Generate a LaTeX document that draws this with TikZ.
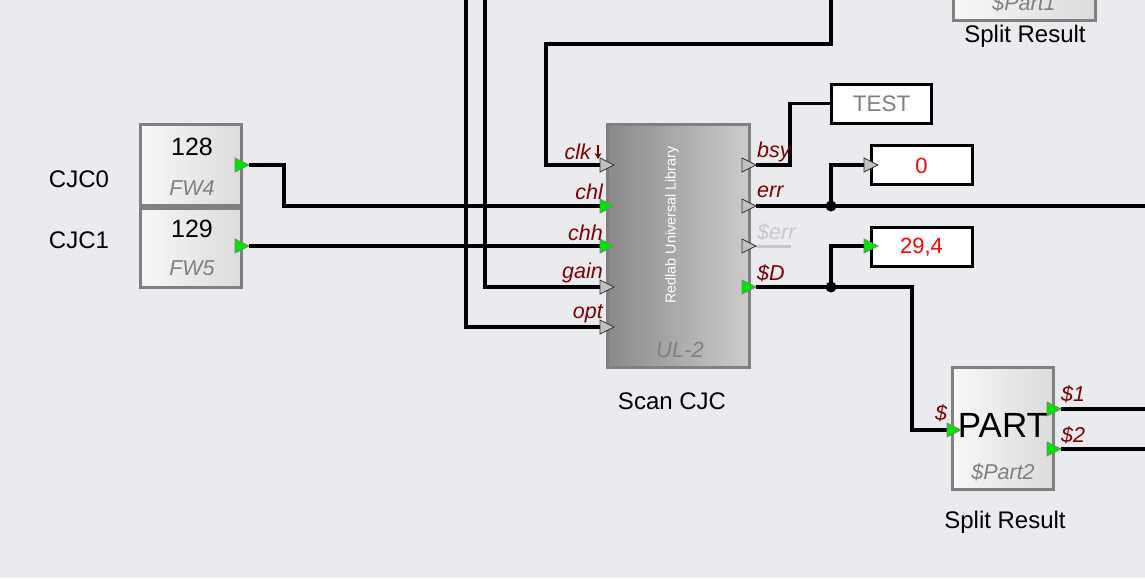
\documentclass[tikz,border=0pt]{standalone}
\usepackage{fontspec}
\setmainfont{Liberation Sans}
\usetikzlibrary{arrows.meta}
\definecolor{bg}{RGB}{234,235,239}
\definecolor{pinred}{RGB}{128,0,0}
\definecolor{valred}{RGB}{255,0,0}
\definecolor{txtgray}{RGB}{128,128,128}
\definecolor{lightg}{RGB}{200,200,200}
\definecolor{pingreen}{RGB}{0,228,0}
\definecolor{pingray}{RGB}{192,192,192}
\pgfdeclarelayer{bglayer}
\pgfdeclarelayer{wires}
\pgfsetlayers{bglayer,wires,main}
\begin{document}
\begin{tikzpicture}[x=1pt,y=-1pt,
  wire/.style={line width=3.2pt,black},
  fwbox/.style={draw=txtgray,line width=3pt,left color=white!97!black,right color=white!86!black,inner sep=0pt},
  ulbox/.style={draw=txtgray,line width=3pt,left color=white!54!black,right color=white!80!black,inner sep=0pt},
  valbox/.style={draw=black,line width=3pt,fill=white,inner sep=0pt,minimum width=100pt,minimum height=39pt},
  pinlbl/.style={text=pinred,font=\fontsize{21.5}{24}\selectfont\itshape,inner sep=0pt},
  plain/.style={font=\fontsize{24}{28}\selectfont,inner sep=0pt},
  gitxt/.style={text=txtgray,font=\fontsize{21.5}{24}\selectfont\itshape,inner sep=0pt},
  ping/.pic={\draw[fill=pingreen,draw=txtgray,line width=0.8pt] (-7,-7) -- (7,0) -- (-7,7) -- cycle;
    \coordinate (-w) at (-7,0); \coordinate (-e) at (7,0);},
  pinr/.pic={\draw[fill=pingray,draw=black!80,line width=0.8pt] (-7,-7) -- (7,0) -- (-7,7) -- cycle;
    \coordinate (-w) at (-7,0); \coordinate (-e) at (7,0);}
]
\useasboundingbox (0,0) rectangle (1145,578);
\begin{pgfonlayer}{bglayer}
\fill[bg] (0,0) rectangle (1145,578);
\end{pgfonlayer}

% coordinates for free ends
\coordinate (topopt) at (466,0);
\coordinate (topgain) at (485,0);
\coordinate (c1) at (546,44);
\coordinate (topclk) at (831,0);
\coordinate (errend) at (1145,206);
\coordinate (dot1) at (831,206);
\coordinate (dot2) at (831,287);
\coordinate (bend) at (912,360);
\coordinate (out1) at (1145,409);
\coordinate (out2) at (1145,449);

% top-right partial block
\node[fwbox,minimum width=142pt,minimum height=90pt] (part1) at (1024,-24) {};
\node[gitxt] (part1t) at (1024,3) {\$Part1};
\node[plain] (sr1) at (1025,36) {Split Result};

% FW boxes
\node[fwbox,minimum width=101pt,minimum height=81pt] (fw4) at (190.5,165) {};
\node[fwbox,minimum width=101pt,minimum height=79pt] (fw5) at (190.5,247.5) {};
\node[plain,font=\fontsize{25}{28}\selectfont] (t128) at (192,147) {128};
\node[gitxt] (tfw4) at (192,188) {FW4};
\node[plain,font=\fontsize{25}{28}\selectfont] (t129) at (192,229) {129};
\node[gitxt] (tfw5) at (192,268) {FW5};
\node[plain] (cjc0) at (79,179) {CJC0};
\node[plain] (cjc1) at (79,240) {CJC1};
\pic (fw4o) at (242,165) {ping};
\pic (fw5o) at (242,246) {ping};

% UL-2 block
\node[ulbox,minimum width=142pt,minimum height=243pt] (ul) at (678.5,246) {};
\node[rotate=90,text=white,font=\fontsize{14.4}{17}\selectfont,inner sep=0pt] (ullib) at (672,225) {Redlab Universal Library};
\node[gitxt,font=\fontsize{22}{26}\selectfont\itshape] (ult) at (680,350) {UL-2};
\node[plain] (scan) at (672,401) {Scan CJC};

\pic (clk) at (607,165) {pinr};
\pic (chl) at (607,206) {ping};
\pic (chh) at (607,246) {ping};
\pic (gain) at (607,287) {pinr};
\pic (opt) at (607,327) {pinr};
\pic (bsy) at (749,165) {pinr};
\pic (err) at (749,206) {pinr};
\pic (serr) at (749,246) {pinr};
\pic (sd) at (749,287) {ping};

\node[pinlbl,anchor=east] (lclk) at (591,152) {clk};
\draw[pinred,line width=1.8pt,-{Stealth[length=6pt,width=7pt]}] (598,145) -- (598,159);
\node[pinlbl,anchor=east] (lchl) at (603,192) {chl};
\node[pinlbl,anchor=east] (lchh) at (603,233) {chh};
\node[pinlbl,anchor=east] (lgain) at (603,273) {gain};
\node[pinlbl,anchor=east] (lopt) at (603,314) {opt};
\node[pinlbl,anchor=west] (lbsy) at (757,152) {bsy};
\node[pinlbl,anchor=west] (lerr) at (757,192) {err};
\node[pinlbl,anchor=west,text=lightg] (lserr) at (757,232) {\$err};
\node[pinlbl,anchor=west] (lsd) at (757,273) {\$D};

% value boxes
\node[valbox] (test) at (881.5,103.5) {};
\node[text=txtgray,font=\fontsize{22.5}{26}\selectfont,inner sep=0pt] (testt) at (881.5,104) {TEST};
\node[valbox,minimum width=101pt] (zero) at (921.5,165) {};
\node[text=valred,font=\fontsize{22}{26}\selectfont,inner sep=0pt] (zerot) at (921.5,166) {0};
\node[valbox,minimum width=101pt] (val) at (921.5,246.5) {};
\node[text=valred,font=\fontsize{22}{26}\selectfont,inner sep=0pt] (valt) at (921.5,247) {29,4};
\pic (zin) at (871,165) {pinr};
\pic (vin) at (871,246) {ping};

% PART block
\node[fwbox,minimum width=101pt,minimum height=122pt] (part) at (1003,428.5) {};
\node[plain,font=\fontsize{35}{40}\selectfont] (partt) at (1003,425) {PART};
\node[gitxt] (part2t) at (1003,472) {\$Part2};
\node[plain] (sr2) at (1005,522) {Split Result};
\pic (pin) at (954,430) {ping};
\pic (p1) at (1054,409) {ping};
\pic (p2) at (1054,449) {ping};
\node[pinlbl] (ls) at (941,413) {\$};
\node[pinlbl,anchor=west] (ls1) at (1061,394) {\$1};
\node[pinlbl,anchor=west] (ls2) at (1061,435) {\$2};

% wires
\begin{pgfonlayer}{wires}
\draw[lightg,line width=3pt] (serr-e) -- ++(35,0);
\draw[wire] (fw4o-e) -- ++(35,0) |- (chl-w);
\draw[wire] (fw5o-e) -- (chh-w);
\draw[wire] (clk-w) -| (c1) -| (topclk);
\draw[wire] (topgain) |- (gain-w);
\draw[wire] (topopt) |- (opt-w);
\draw[wire] (bsy-e) -- ++(34,0) |- (test.west);
\draw[wire] (err-e) -- (errend);
\draw[wire] (dot1) |- (zin-w);
\fill (dot1) circle (5.5);
\draw[wire] (sd-e) -| (bend) |- (pin-w);
\draw[wire] (dot2) |- (vin-w);
\fill (dot2) circle (5.5);
\draw[wire] (p1-e) -- (out1);
\draw[wire] (p2-e) -- (out2);
\end{pgfonlayer}
\end{tikzpicture}
\end{document}
